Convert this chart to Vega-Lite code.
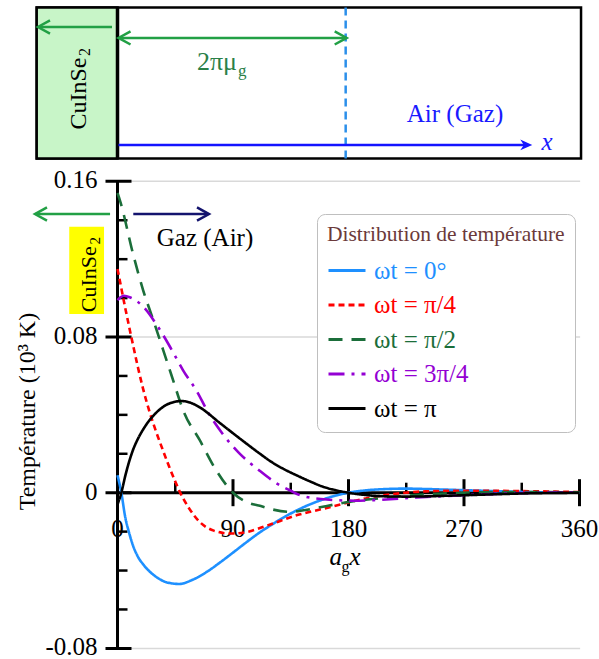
{
"$schema": "https://vega.github.io/schema/vega-lite/v6.json",
"width": 599, "height": 659, "autosize": {"type": "none"}, "padding": 0,
"background": "white",
"config": {"view": {"stroke": null}, "font": "Liberation Serif"},
"data": {"values": [{}]},
"layer": [
{"mark": {"type": "rect", "fill": "white", "stroke": "black", "strokeWidth": 2.5},
 "encoding": {"x": {"datum": -62.96, "type": "quantitative", "scale": {"domain": [-91.56, 375.2], "nice": false, "zero": false}, "axis": null}, "x2": {"datum": 361.2},
  "y": {"datum": 0.1718, "type": "quantitative", "scale": {"domain": [-0.08546, 0.25319], "nice": false, "zero": false}, "axis": null}, "y2": {"datum": 0.2494}}},
{"mark": {"type": "rect", "fill": "#C8F5C8", "stroke": "black", "strokeWidth": 2.5},
 "encoding": {"x": {"datum": -62.96, "type": "quantitative"}, "x2": {"datum": 0}, "y": {"datum": 0.1718, "type": "quantitative"}, "y2": {"datum": 0.2494}}},
{"mark": {"type": "rule", "color": "black", "strokeWidth": 3.5},
 "encoding": {"x": {"datum": 0, "type": "quantitative"}, "y": {"datum": 0.1718, "type": "quantitative"}, "y2": {"datum": 0.2494}}},
{"mark": {"type": "rule", "color": "#2B8FEA", "strokeWidth": 2.5, "strokeDash": [8, 5]},
 "encoding": {"x": {"datum": 177.8, "type": "quantitative"}, "y": {"datum": 0.1718, "type": "quantitative"}, "y2": {"datum": 0.2494}}},
{"mark": {"type": "rule", "color": "#22A045", "strokeWidth": 2.5},
 "encoding": {"x": {"datum": -4.3, "type": "quantitative"}, "x2": {"datum": -61.5}, "y": {"datum": 0.2393, "type": "quantitative"}}},
{"mark": {"type": "point", "shape": "M1,-0.55L0,0L1,0.55", "size": 576, "filled": false, "color": "#22A045", "strokeWidth": 2.5, "opacity": 1},
 "encoding": {"x": {"datum": -61.95, "type": "quantitative"}, "y": {"datum": 0.2393, "type": "quantitative"}}},
{"mark": {"type": "rule", "color": "#22A045", "strokeWidth": 2.5},
 "encoding": {"x": {"datum": 0.8, "type": "quantitative"}, "x2": {"datum": 178.3}, "y": {"datum": 0.2337, "type": "quantitative"}}},
{"mark": {"type": "point", "shape": "M1,-0.55L0,0L1,0.55", "size": 576, "filled": false, "color": "#22A045", "strokeWidth": 2.5, "opacity": 1},
 "encoding": {"x": {"datum": 0.8, "type": "quantitative"}, "y": {"datum": 0.2337, "type": "quantitative"}}},
{"mark": {"type": "point", "shape": "M-1,-0.55L0,0L-1,0.55", "size": 576, "filled": false, "color": "#22A045", "strokeWidth": 2.5, "opacity": 1},
 "encoding": {"x": {"datum": 178.6, "type": "quantitative"}, "y": {"datum": 0.2337, "type": "quantitative"}}},
{"mark": {"type": "rule", "color": "#1414FF", "strokeWidth": 2.5},
 "encoding": {"x": {"datum": 0.8, "type": "quantitative"}, "x2": {"datum": 320}, "y": {"datum": 0.1787, "type": "quantitative"}}},
{"mark": {"type": "point", "shape": "M0,0L-1,-0.45L-0.7,0L-1,0.45Z", "size": 576, "filled": true, "color": "#1414FF", "opacity": 1},
 "encoding": {"x": {"datum": 323.2, "type": "quantitative"}, "y": {"datum": 0.1787, "type": "quantitative"}}},
{"mark": {"type": "text", "text": "CuInSe", "angle": 270, "align": "center", "baseline": "alphabetic", "font": "Liberation Serif", "fontSize": 24, "fill": "black"},
 "encoding": {"x": {"datum": -24.55, "type": "quantitative"}, "y": {"datum": 0.2051, "type": "quantitative"}}},
{"mark": {"type": "text", "text": "2", "angle": 270, "align": "left", "baseline": "alphabetic", "font": "Liberation Serif", "fontSize": 16, "fill": "black"},
 "encoding": {"x": {"datum": -21.4, "type": "quantitative"}, "y": {"datum": 0.2244, "type": "quantitative"}}},
{"mark": {"type": "text", "text": "2πμ", "align": "right", "baseline": "alphabetic", "font": "Liberation Serif", "fontSize": 26, "fill": "#2A8048"},
 "encoding": {"x": {"datum": 93.1, "type": "quantitative"}, "y": {"datum": 0.2172, "type": "quantitative"}}},
{"mark": {"type": "text", "text": "g", "align": "left", "baseline": "alphabetic", "font": "Liberation Serif", "fontSize": 17, "fill": "#2A8048"},
 "encoding": {"x": {"datum": 93.9, "type": "quantitative"}, "y": {"datum": 0.2141, "type": "quantitative"}}},
{"mark": {"type": "text", "text": "Air (Gaz)", "align": "center", "baseline": "alphabetic", "font": "Liberation Serif", "fontSize": 25, "fill": "#1A1AFF"},
 "encoding": {"x": {"datum": 263.0, "type": "quantitative"}, "y": {"datum": 0.1906, "type": "quantitative"}}},
{"mark": {"type": "text", "text": "x", "align": "center", "baseline": "alphabetic", "font": "Liberation Serif", "fontStyle": "italic", "fontSize": 25, "fill": "#1A1AFF"},
 "encoding": {"x": {"datum": 334.7, "type": "quantitative"}, "y": {"datum": 0.1761, "type": "quantitative"}}},
{"data": {"values": [{"g": 0.16}, {"g": 0.08}, {"g": -0.08}]},
 "mark": {"type": "rule", "color": "#D9D9D9", "strokeWidth": 1.5},
 "encoding": {"x": {"datum": 0, "type": "quantitative"}, "x2": {"datum": 360.5}, "y": {"field": "g", "type": "quantitative"}}},
{"mark": {"type": "rule", "color": "black", "strokeWidth": 3},
 "encoding": {"x": {"datum": 0, "type": "quantitative"}, "y": {"datum": -0.08, "type": "quantitative"}, "y2": {"datum": 0.16}}},
{"mark": {"type": "rule", "color": "black", "strokeWidth": 3},
 "encoding": {"x": {"datum": 0, "type": "quantitative"}, "x2": {"datum": 360}, "y": {"datum": 0, "type": "quantitative"}}},
{"data": {"values": [{"t": 90}, {"t": 180}, {"t": 270}, {"t": 360}]},
 "mark": {"type": "tick", "orient": "vertical", "size": 27, "thickness": 3, "color": "black", "opacity": 1},
 "encoding": {"x": {"field": "t", "type": "quantitative"}, "y": {"datum": 0, "type": "quantitative"}}},
{"data": {"values": [{"t": 45}, {"t": 135}, {"t": 225}, {"t": 315}]},
 "mark": {"type": "tick", "orient": "vertical", "size": 10, "thickness": 2.5, "color": "black", "opacity": 1, "yOffset": -5},
 "encoding": {"x": {"field": "t", "type": "quantitative"}, "y": {"datum": 0, "type": "quantitative"}}},
{"data": {"values": [{"t": -0.08}, {"t": 0}, {"t": 0.08}, {"t": 0.16}]},
 "mark": {"type": "tick", "orient": "horizontal", "size": 26, "thickness": 3, "color": "black", "opacity": 1, "xOffset": 1},
 "encoding": {"y": {"field": "t", "type": "quantitative"}, "x": {"datum": 0, "type": "quantitative"}}},
{"data": {"values": [{"t": -0.06}, {"t": -0.04}, {"t": -0.02}, {"t": 0.02}, {"t": 0.04}, {"t": 0.06}, {"t": 0.10}, {"t": 0.12}, {"t": 0.14}]},
 "mark": {"type": "tick", "orient": "horizontal", "size": 10, "thickness": 2.5, "color": "black", "opacity": 1, "xOffset": 5},
 "encoding": {"y": {"field": "t", "type": "quantitative"}, "x": {"datum": 0, "type": "quantitative"}}},
{"data": {"values": [{"v": 0, "l": "0"}, {"v": 90, "l": "90"}, {"v": 180, "l": "180"}, {"v": 270, "l": "270"}, {"v": 360, "l": "360"}]},
 "mark": {"type": "text", "align": "center", "baseline": "top", "dy": 24.5, "font": "Liberation Serif", "fontSize": 25, "fill": "black"},
 "encoding": {"x": {"field": "v", "type": "quantitative"}, "y": {"datum": 0, "type": "quantitative"}, "text": {"field": "l"}}},
{"data": {"values": [{"v": 0.16, "l": "0.16"}, {"v": 0.08, "l": "0.08"}, {"v": 0, "l": "0"}, {"v": -0.08, "l": "-0.08"}]},
 "mark": {"type": "text", "align": "right", "baseline": "middle", "dx": -20, "dy": -1, "font": "Liberation Serif", "fontSize": 25, "fill": "black"},
 "encoding": {"y": {"field": "v", "type": "quantitative"}, "x": {"datum": 0, "type": "quantitative"}, "text": {"field": "l"}}},
{"data": {"values": [
 {"s": "ωt = 0°", "x": 0, "y": 0.009}, {"s": "ωt = 0°", "x": 3, "y": 0}, {"s": "ωt = 0°", "x": 6, "y": -0.0125}, {"s": "ωt = 0°", "x": 9, "y": -0.0205}, {"s": "ωt = 0°", "x": 12, "y": -0.027}, {"s": "ωt = 0°", "x": 16, "y": -0.033}, {"s": "ωt = 0°", "x": 20, "y": -0.0368}, {"s": "ωt = 0°", "x": 25, "y": -0.0405}, {"s": "ωt = 0°", "x": 30, "y": -0.0432}, {"s": "ωt = 0°", "x": 38, "y": -0.046}, {"s": "ωt = 0°", "x": 48, "y": -0.0469}, {"s": "ωt = 0°", "x": 58, "y": -0.0449}, {"s": "ωt = 0°", "x": 70, "y": -0.0405}, {"s": "ωt = 0°", "x": 80, "y": -0.0358}, {"s": "ωt = 0°", "x": 90, "y": -0.0308}, {"s": "ωt = 0°", "x": 100, "y": -0.0257}, {"s": "ωt = 0°", "x": 110, "y": -0.0208}, {"s": "ωt = 0°", "x": 120, "y": -0.0165}, {"s": "ωt = 0°", "x": 130, "y": -0.0125}, {"s": "ωt = 0°", "x": 140, "y": -0.009}, {"s": "ωt = 0°", "x": 150, "y": -0.006}, {"s": "ωt = 0°", "x": 160, "y": -0.0035}, {"s": "ωt = 0°", "x": 170, "y": -0.0015}, {"s": "ωt = 0°", "x": 180, "y": 0}, {"s": "ωt = 0°", "x": 195, "y": 0.0013}, {"s": "ωt = 0°", "x": 210, "y": 0.0019}, {"s": "ωt = 0°", "x": 225, "y": 0.0021}, {"s": "ωt = 0°", "x": 240, "y": 0.0019}, {"s": "ωt = 0°", "x": 255, "y": 0.0016}, {"s": "ωt = 0°", "x": 270, "y": 0.0013}, {"s": "ωt = 0°", "x": 285, "y": 0.001}, {"s": "ωt = 0°", "x": 300, "y": 0.0007}, {"s": "ωt = 0°", "x": 315, "y": 0.0004}, {"s": "ωt = 0°", "x": 330, "y": 0.0002}, {"s": "ωt = 0°", "x": 345, "y": 0.0001}, {"s": "ωt = 0°", "x": 360, "y": 0},
 {"s": "ωt = π/4", "x": 0, "y": 0.115}, {"s": "ωt = π/4", "x": 3, "y": 0.105}, {"s": "ωt = π/4", "x": 6, "y": 0.095}, {"s": "ωt = π/4", "x": 9, "y": 0.0855}, {"s": "ωt = π/4", "x": 12, "y": 0.0762}, {"s": "ωt = π/4", "x": 16, "y": 0.0642}, {"s": "ωt = π/4", "x": 20, "y": 0.0532}, {"s": "ωt = π/4", "x": 25, "y": 0.0415}, {"s": "ωt = π/4", "x": 30, "y": 0.0315}, {"s": "ωt = π/4", "x": 35, "y": 0.0225}, {"s": "ωt = π/4", "x": 40, "y": 0.0138}, {"s": "ωt = π/4", "x": 45, "y": 0.0058}, {"s": "ωt = π/4", "x": 48, "y": 0.0012}, {"s": "ωt = π/4", "x": 55, "y": -0.0072}, {"s": "ωt = π/4", "x": 64, "y": -0.015}, {"s": "ωt = π/4", "x": 75, "y": -0.0195}, {"s": "ωt = π/4", "x": 88, "y": -0.021}, {"s": "ωt = π/4", "x": 100, "y": -0.0203}, {"s": "ωt = π/4", "x": 117, "y": -0.0168}, {"s": "ωt = π/4", "x": 140, "y": -0.0115}, {"s": "ωt = π/4", "x": 160, "y": -0.0083}, {"s": "ωt = π/4", "x": 180, "y": -0.005}, {"s": "ωt = π/4", "x": 195, "y": -0.0027}, {"s": "ωt = π/4", "x": 215, "y": -0.0007}, {"s": "ωt = π/4", "x": 240, "y": 0.0007}, {"s": "ωt = π/4", "x": 265, "y": 0.001}, {"s": "ωt = π/4", "x": 290, "y": 0.001}, {"s": "ωt = π/4", "x": 315, "y": 0.0008}, {"s": "ωt = π/4", "x": 337, "y": 0.0006}, {"s": "ωt = π/4", "x": 360, "y": 0.0003},
 {"s": "ωt = π/2", "x": 0, "y": 0.154}, {"s": "ωt = π/2", "x": 2, "y": 0.15}, {"s": "ωt = π/2", "x": 12, "y": 0.123}, {"s": "ωt = π/2", "x": 20, "y": 0.104}, {"s": "ωt = π/2", "x": 28, "y": 0.0885}, {"s": "ωt = π/2", "x": 42, "y": 0.0605}, {"s": "ωt = π/2", "x": 52, "y": 0.041}, {"s": "ωt = π/2", "x": 64, "y": 0.0271}, {"s": "ωt = π/2", "x": 76, "y": 0.0125}, {"s": "ωt = π/2", "x": 90, "y": 0}, {"s": "ωt = π/2", "x": 103, "y": -0.0054}, {"s": "ωt = π/2", "x": 110, "y": -0.0066}, {"s": "ωt = π/2", "x": 120, "y": -0.0085}, {"s": "ωt = π/2", "x": 134, "y": -0.0098}, {"s": "ωt = π/2", "x": 150, "y": -0.0085}, {"s": "ωt = π/2", "x": 160, "y": -0.0072}, {"s": "ωt = π/2", "x": 180, "y": -0.0048}, {"s": "ωt = π/2", "x": 195, "y": -0.0035}, {"s": "ωt = π/2", "x": 210, "y": -0.0025}, {"s": "ωt = π/2", "x": 225, "y": -0.0016}, {"s": "ωt = π/2", "x": 240, "y": -0.0009}, {"s": "ωt = π/2", "x": 255, "y": -0.0004}, {"s": "ωt = π/2", "x": 270, "y": 0}, {"s": "ωt = π/2", "x": 300, "y": 0.0003}, {"s": "ωt = π/2", "x": 330, "y": 0.0003}, {"s": "ωt = π/2", "x": 360, "y": 0.0002},
 {"s": "ωt = 3π/4", "x": 0, "y": 0.099}, {"s": "ωt = 3π/4", "x": 5, "y": 0.1012}, {"s": "ωt = 3π/4", "x": 10, "y": 0.1003}, {"s": "ωt = 3π/4", "x": 20, "y": 0.0956}, {"s": "ωt = 3π/4", "x": 31, "y": 0.0858}, {"s": "ωt = 3π/4", "x": 42, "y": 0.0737}, {"s": "ωt = 3π/4", "x": 51, "y": 0.063}, {"s": "ωt = 3π/4", "x": 62, "y": 0.0519}, {"s": "ωt = 3π/4", "x": 71, "y": 0.0408}, {"s": "ωt = 3π/4", "x": 82, "y": 0.0302}, {"s": "ωt = 3π/4", "x": 95, "y": 0.0202}, {"s": "ωt = 3π/4", "x": 110, "y": 0.0117}, {"s": "ωt = 3π/4", "x": 124, "y": 0.0048}, {"s": "ωt = 3π/4", "x": 135, "y": 0.001}, {"s": "ωt = 3π/4", "x": 142, "y": -0.0012}, {"s": "ωt = 3π/4", "x": 163, "y": -0.0035}, {"s": "ωt = 3π/4", "x": 185, "y": -0.0041}, {"s": "ωt = 3π/4", "x": 200, "y": -0.0038}, {"s": "ωt = 3π/4", "x": 233, "y": -0.0025}, {"s": "ωt = 3π/4", "x": 270, "y": -0.0013}, {"s": "ωt = 3π/4", "x": 300, "y": -0.0005}, {"s": "ωt = 3π/4", "x": 330, "y": 0}, {"s": "ωt = 3π/4", "x": 360, "y": 0.0002},
 {"s": "ωt = π", "x": 0, "y": -0.006}, {"s": "ωt = π", "x": 3, "y": 0}, {"s": "ωt = π", "x": 6, "y": 0.0085}, {"s": "ωt = π", "x": 9, "y": 0.0158}, {"s": "ωt = π", "x": 12, "y": 0.0218}, {"s": "ωt = π", "x": 16, "y": 0.0278}, {"s": "ωt = π", "x": 20, "y": 0.0325}, {"s": "ωt = π", "x": 25, "y": 0.0373}, {"s": "ωt = π", "x": 30, "y": 0.041}, {"s": "ωt = π", "x": 38, "y": 0.0451}, {"s": "ωt = π", "x": 44, "y": 0.0466}, {"s": "ωt = π", "x": 50, "y": 0.0471}, {"s": "ωt = π", "x": 57, "y": 0.0462}, {"s": "ωt = π", "x": 64, "y": 0.0439}, {"s": "ωt = π", "x": 80, "y": 0.0357}, {"s": "ωt = π", "x": 95, "y": 0.028}, {"s": "ωt = π", "x": 110, "y": 0.0205}, {"s": "ωt = π", "x": 120, "y": 0.0158}, {"s": "ωt = π", "x": 130, "y": 0.012}, {"s": "ωt = π", "x": 140, "y": 0.0088}, {"s": "ωt = π", "x": 150, "y": 0.0058}, {"s": "ωt = π", "x": 160, "y": 0.0031}, {"s": "ωt = π", "x": 170, "y": 0.0013}, {"s": "ωt = π", "x": 180, "y": 0}, {"s": "ωt = π", "x": 195, "y": -0.0013}, {"s": "ωt = π", "x": 210, "y": -0.0019}, {"s": "ωt = π", "x": 225, "y": -0.002}, {"s": "ωt = π", "x": 240, "y": -0.0019}, {"s": "ωt = π", "x": 255, "y": -0.0016}, {"s": "ωt = π", "x": 270, "y": -0.0013}, {"s": "ωt = π", "x": 285, "y": -0.001}, {"s": "ωt = π", "x": 300, "y": -0.0007}, {"s": "ωt = π", "x": 315, "y": -0.0004}, {"s": "ωt = π", "x": 330, "y": -0.0002}, {"s": "ωt = π", "x": 345, "y": -0.0001}, {"s": "ωt = π", "x": 360, "y": 0}
 ]},
 "mark": {"type": "line", "interpolate": "monotone", "strokeWidth": 2.6},
 "encoding": {
  "x": {"field": "x", "type": "quantitative"},
  "y": {"field": "y", "type": "quantitative"},
  "color": {"field": "s", "type": "nominal", "scale": {"domain": ["ωt = 0°", "ωt = π/4", "ωt = π/2", "ωt = 3π/4", "ωt = π"], "range": ["#1E90FF", "#FF0000", "#1B6E3A", "#9400D3", "#000000"]},
   "legend": {"title": "Distribution de température", "orient": "none", "legendX": 317, "legendY": 214, "padding": 10, "fillColor": "white", "strokeColor": "#BFBFBF", "cornerRadius": 8, "titleFont": "Liberation Serif", "titleFontSize": 21.5, "titleFontWeight": "normal", "titleColor": "#6B3A3A", "titleLimit": 400, "titlePadding": 5, "labelFont": "Liberation Serif", "labelFontSize": 25, "labelLimit": 300, "labelOffset": 7, "symbolType": "stroke", "symbolSize": 1369, "symbolStrokeWidth": 3, "rowPadding": 1.5, "encode": {"labels": {"update": {"fill": {"scale": "color", "field": "value"}}}}}},
  "strokeDash": {"field": "s", "type": "nominal", "scale": {"domain": ["ωt = 0°", "ωt = π/4", "ωt = π/2", "ωt = 3π/4", "ωt = π"], "range": [[1, 0], [6, 4], [14, 9], [16, 7, 3, 7], [1, 0]]},
   "legend": {"title": "Distribution de température", "orient": "none", "legendX": 317, "legendY": 214, "padding": 10, "fillColor": "white", "strokeColor": "#BFBFBF", "cornerRadius": 8, "titleFont": "Liberation Serif", "titleFontSize": 21.5, "titleFontWeight": "normal", "titleColor": "#6B3A3A", "titleLimit": 400, "titlePadding": 5, "labelFont": "Liberation Serif", "labelFontSize": 25, "labelLimit": 300, "labelOffset": 7, "symbolType": "stroke", "symbolSize": 1369, "symbolStrokeWidth": 3, "rowPadding": 1.5, "encode": {"labels": {"update": {"fill": {"scale": "color", "field": "value"}}}}}}
 }},
{"mark": {"type": "rect", "fill": "#FFFF00"},
 "encoding": {"x": {"datum": -37.6, "type": "quantitative"}, "x2": {"datum": -10.5}, "y": {"datum": 0.0918, "type": "quantitative"}, "y2": {"datum": 0.1367}}},
{"mark": {"type": "text", "text": "CuInSe", "angle": 270, "align": "center", "baseline": "alphabetic", "font": "Liberation Serif", "fontSize": 22, "fill": "black"},
 "encoding": {"x": {"datum": -16.75, "type": "quantitative"}, "y": {"datum": 0.1097, "type": "quantitative"}}},
{"mark": {"type": "text", "text": "2", "angle": 270, "align": "left", "baseline": "alphabetic", "font": "Liberation Serif", "fontSize": 15, "fill": "black"},
 "encoding": {"x": {"datum": -13.6, "type": "quantitative"}, "y": {"datum": 0.1275, "type": "quantitative"}}},
{"mark": {"type": "rule", "color": "#22A045", "strokeWidth": 2.5},
 "encoding": {"x": {"datum": -5.8, "type": "quantitative"}, "x2": {"datum": -63.8}, "y": {"datum": 0.1432, "type": "quantitative"}}},
{"mark": {"type": "point", "shape": "M1,-0.55L0,0L1,0.55", "size": 576, "filled": false, "color": "#22A045", "strokeWidth": 2.5, "opacity": 1},
 "encoding": {"x": {"datum": -64.3, "type": "quantitative"}, "y": {"datum": 0.1432, "type": "quantitative"}}},
{"mark": {"type": "rule", "color": "#14146E", "strokeWidth": 2.5},
 "encoding": {"x": {"datum": 12.3, "type": "quantitative"}, "x2": {"datum": 70.8}, "y": {"datum": 0.1432, "type": "quantitative"}}},
{"mark": {"type": "point", "shape": "M-1,-0.55L0,0L-1,0.55", "size": 576, "filled": false, "color": "#14146E", "strokeWidth": 2.5, "opacity": 1},
 "encoding": {"x": {"datum": 71.3, "type": "quantitative"}, "y": {"datum": 0.1432, "type": "quantitative"}}},
{"mark": {"type": "text", "text": "Gaz (Air)", "align": "center", "baseline": "alphabetic", "font": "Liberation Serif", "fontSize": 25, "fill": "black"},
 "encoding": {"x": {"datum": 68.2, "type": "quantitative"}, "y": {"datum": 0.1268, "type": "quantitative"}}},
{"mark": {"type": "text", "text": "Température (10³ K)", "angle": 270, "align": "center", "baseline": "alphabetic", "font": "Liberation Serif", "fontSize": 24, "fill": "black"},
 "encoding": {"x": {"datum": -64.3, "type": "quantitative"}, "y": {"datum": 0.0417, "type": "quantitative"}}},
{"mark": {"type": "text", "text": "a", "align": "right", "baseline": "alphabetic", "font": "Liberation Serif", "fontStyle": "italic", "fontSize": 25, "fill": "black"},
 "encoding": {"x": {"datum": 174.9, "type": "quantitative"}, "y": {"datum": -0.03715, "type": "quantitative"}}},
{"mark": {"type": "text", "text": "g", "align": "left", "baseline": "alphabetic", "font": "Liberation Serif", "fontSize": 16, "fill": "black"},
 "encoding": {"x": {"datum": 174.5, "type": "quantitative"}, "y": {"datum": -0.04075, "type": "quantitative"}}},
{"mark": {"type": "text", "text": "x", "align": "left", "baseline": "alphabetic", "font": "Liberation Serif", "fontStyle": "italic", "fontSize": 25, "fill": "black"},
 "encoding": {"x": {"datum": 180.8, "type": "quantitative"}, "y": {"datum": -0.03715, "type": "quantitative"}}}
]
}
